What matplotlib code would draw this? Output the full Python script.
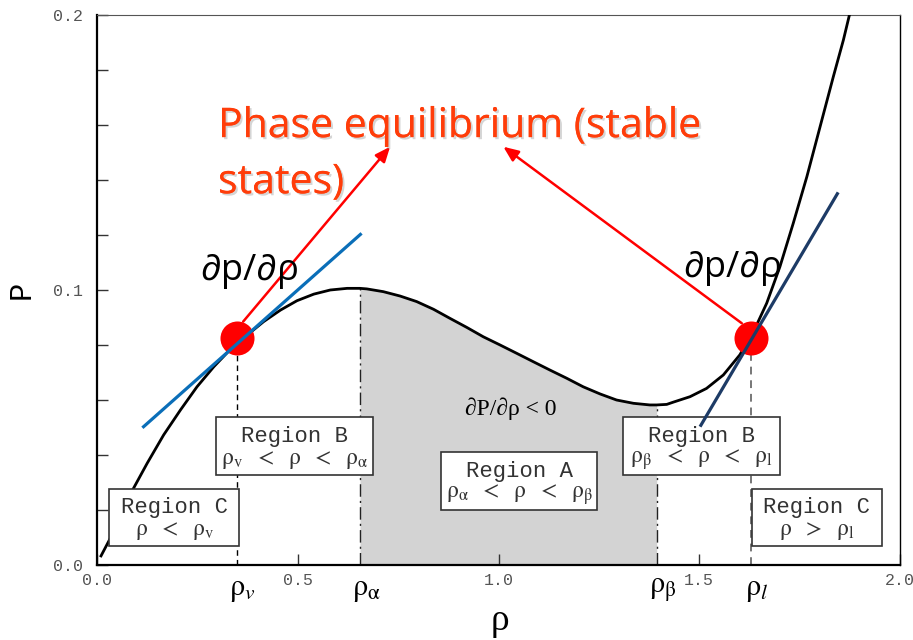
import numpy as np
import matplotlib
matplotlib.use("Agg")
import matplotlib.pyplot as plt
import matplotlib.patheffects as pe
from matplotlib.patches import Rectangle

# ---- isotherm P(rho) ----
rho = [0.010, 0.033, 0.058, 0.091, 0.125, 0.166, 0.208, 0.249, 0.291, 0.332,
       0.374, 0.415, 0.457, 0.498, 0.540, 0.581, 0.623, 0.655, 0.672, 0.713,
       0.755, 0.796, 0.838, 0.879, 0.921, 0.962, 1.004, 1.045, 1.087, 1.128,
       1.170, 1.211, 1.253, 1.294, 1.336, 1.377, 1.394, 1.419, 1.435, 1.477,
       1.518, 1.560, 1.601, 1.635, 1.668, 1.701, 1.734, 1.768, 1.801, 1.834,
       1.859, 1.874]
pressure = [0.0033, 0.0097, 0.0188, 0.0279, 0.0370, 0.0473, 0.0564, 0.0648, 0.0721, 0.0784,
            0.0836, 0.0885, 0.0927, 0.0961, 0.0985, 0.1000, 0.1006, 0.1006, 0.1004, 0.0994,
            0.0978, 0.0958, 0.0930, 0.0897, 0.0864, 0.0830, 0.0800, 0.0770, 0.0739, 0.0709,
            0.0679, 0.0648, 0.0622, 0.0600, 0.0588, 0.0582, 0.0582, 0.0584, 0.0592, 0.0612,
            0.0642, 0.0691, 0.0764, 0.0848, 0.0952, 0.1085, 0.1242, 0.1412, 0.1594, 0.1776,
            0.1909, 0.2000]

# characteristic densities
rho_v = 0.348
rho_alpha = 0.655
rho_beta = 1.394
rho_l = 1.628
p_eq = 0.0826

# tangent segments at the coexistence points
tan_left_x = [0.113, 0.659]
tan_left_y = [0.0499, 0.1206]
tan_right_x = [1.502, 1.846]
tan_right_y = [0.0503, 0.1355]

x_ticks = [0.0, 0.5, 1.0, 1.5, 2.0]
x_ticklabels = ["0.0", "0.5", "1.0", "1.5", "2.0"]
y_ticks = [0.00, 0.02, 0.04, 0.06, 0.08, 0.10, 0.12, 0.14, 0.16, 0.18, 0.20]
y_ticklabels = ["0.0", "", "", "", "", "0.1", "", "", "", "", "0.2"]

rho_arr = np.array(rho)
p_arr = np.array(pressure)

fig = plt.figure(figsize=(9.13, 6.40), dpi=100)
ax = fig.add_axes([97 / 913, 1 - 565 / 640, 803 / 913, 550 / 640])
ax.set_xlim(0, 2.0)
ax.set_ylim(0, 0.2)

# unstable region shading
mask = (rho_arr >= rho_alpha) & (rho_arr <= rho_beta)
ax.fill_between(rho_arr[mask], 0, p_arr[mask], color="#d3d3d3", lw=0, zorder=1)

ax.plot(rho_arr, p_arr, color="black", lw=2.0, zorder=3, solid_joinstyle="round")

# vertical guides
p_alpha = np.interp(rho_alpha, rho_arr, p_arr)
p_beta = np.interp(rho_beta, rho_arr, p_arr)
ax.plot([rho_alpha, rho_alpha], [0, p_alpha], color="#222222", lw=1.0,
        dashes=(9, 3, 1.5, 3), zorder=2)
ax.plot([rho_beta, rho_beta], [0, p_beta], color="#222222", lw=1.0,
        dashes=(9, 3, 1.5, 3), zorder=2)
ax.plot([rho_v, rho_v], [0, p_eq], color="black", lw=1.0, dashes=(4, 3), zorder=2)
ax.plot([rho_l, rho_l], [0, p_eq], color="#777777", lw=1.4, dashes=(4, 3), zorder=2)

# coexistence points
ax.plot([rho_v, rho_l], [p_eq, p_eq], "o", color="#ff0000", ms=24.5,
        mec="none", zorder=4)

# tangents
ax.plot(tan_left_x, tan_left_y, color="#0a6eb8", lw=2.3, zorder=6,
        solid_capstyle="butt")
ax.plot(tan_right_x, tan_right_y, color="#1d3b66", lw=2.3, zorder=6,
        solid_capstyle="butt")

# arrows towards the annotation
arrow_style = dict(arrowstyle="-|>,head_length=0.9,head_width=0.38",
                   color="#ff0000", lw=1.8, shrinkA=0, shrinkB=0)
ax.annotate("", xy=(0.730, 0.1521), xytext=(0.364, 0.0885),
            arrowprops=arrow_style, zorder=5)
ax.annotate("", xy=(1.012, 0.1521), xytext=(1.606, 0.0879),
            arrowprops=arrow_style, zorder=5)

shadow = [pe.withSimplePatchShadow(offset=(1.5, -1.5), shadow_rgbFace="#888888",
                                   alpha=0.35), pe.Normal()]
title_font = ["Open Sans", "Noto Sans", "DejaVu Sans"]
ax.text(0.1507, 0.778, "Phase equilibrium (stable", transform=ax.transAxes,
        fontsize=29.5, color="#ff3d0a", family=title_font, ha="left",
        va="baseline", path_effects=shadow, zorder=7)
ax.text(0.1507, 0.676, "states)", transform=ax.transAxes,
        fontsize=29.5, color="#ff3d0a", family=title_font, ha="left",
        va="baseline", path_effects=shadow, zorder=7)

ax.text(0.128, 0.518, "∂p/∂ρ", transform=ax.transAxes, fontsize=26,
        color="black", family=title_font, ha="left", va="baseline", zorder=7)
ax.text(0.730, 0.524, "∂p/∂ρ", transform=ax.transAxes, fontsize=26,
        color="black", family=title_font, ha="left", va="baseline", zorder=7)

ax.text(0.5156, 0.2727, "∂P/∂ρ < 0", transform=ax.transAxes, fontsize=17,
        family="Liberation Serif", ha="center", va="baseline", zorder=7)

# region boxes
def region_box(x0, x1, y0, y1, title, cond):
    ax.add_patch(Rectangle((x0, y0), x1 - x0, y1 - y0, facecolor="white",
                           edgecolor="#333333", lw=1.2, zorder=5))
    xc = (x0 + x1) / 2
    h = y1 - y0
    ax.text(xc, y0 + 0.66 * h, title, family="Liberation Mono", fontsize=16,
            color="#333333", ha="center", va="center", zorder=6)
    ax.text(xc, y0 + 0.27 * h, cond, fontsize=17, color="#333333",
            ha="center", va="center", math_fontfamily="stix", zorder=6)

sp = r"\ \ "
region_box(0.0306, 0.3544, 0.0070, 0.0278, "Region C",
           r"$\mathrm{\rho}" + sp + "<" + sp + r"\mathrm{\rho}_{\mathrm{v}}$")
region_box(0.297, 0.688, 0.0328, 0.0539, "Region B",
           r"$\mathrm{\rho}_{\mathrm{v}}" + sp + "<" + sp + r"\mathrm{\rho}" + sp + "<" + sp + r"\mathrm{\rho}_{\mathrm{\alpha}}$")
region_box(0.857, 1.246, 0.0200, 0.0410, "Region A",
           r"$\mathrm{\rho}_{\mathrm{\alpha}}" + sp + "<" + sp + r"\mathrm{\rho}" + sp + "<" + sp + r"\mathrm{\rho}_{\mathrm{\beta}}$")
region_box(1.311, 1.700, 0.0328, 0.0539, "Region B",
           r"$\mathrm{\rho}_{\mathrm{\beta}}" + sp + "<" + sp + r"\mathrm{\rho}" + sp + "<" + sp + r"\mathrm{\rho}_{\mathrm{l}}$")
region_box(1.631, 1.955, 0.0070, 0.0278, "Region C",
           r"$\mathrm{\rho}" + sp + ">" + sp + r"\mathrm{\rho}_{\mathrm{l}}$")

# density markers beneath the axis
xt = ax.get_xaxis_transform()
for xv, lab in [(rho_v, r"$\mathrm{\rho}_{v}$"), (rho_alpha, r"$\mathrm{\rho}_{\mathrm{\alpha}}$"),
                (rho_beta, r"$\mathrm{\rho}_{\mathrm{\beta}}$"), (rho_l, r"$\mathrm{\rho}_{l}$")]:
    ax.text(xv + 0.015, -0.045, lab, transform=xt, fontsize=22, ha="center",
            va="center", math_fontfamily="stix", clip_on=False)

# axes styling
ax.set_xticks(x_ticks)
ax.set_xticklabels(x_ticklabels)
ax.set_yticks(y_ticks)
ax.set_yticklabels(y_ticklabels)
ax.tick_params(axis="both", direction="in", length=8, width=1.0, colors="#333333",
               labelcolor="#555555", labelsize=12)
ax.tick_params(axis="x", pad=6)
ax.tick_params(axis="y", pad=10)
for lbl in ax.get_xticklabels() + ax.get_yticklabels():
    lbl.set_family("Liberation Mono")
ax.spines["left"].set_linewidth(1.6)
ax.spines["bottom"].set_linewidth(1.6)
ax.spines["top"].set_linewidth(0.8)
ax.spines["top"].set_color("#555555")
ax.spines["right"].set_linewidth(1.0)

fig.text(500 / 913, 1 - 621 / 640, "ρ", fontsize=27, family="Liberation Serif",
         ha="center", va="center")
fig.text(22 / 913, 1 - 290 / 640, "P", fontsize=22, family="Liberation Mono",
         rotation=90, ha="center", va="center")

fig.savefig("out.png", dpi=100)
